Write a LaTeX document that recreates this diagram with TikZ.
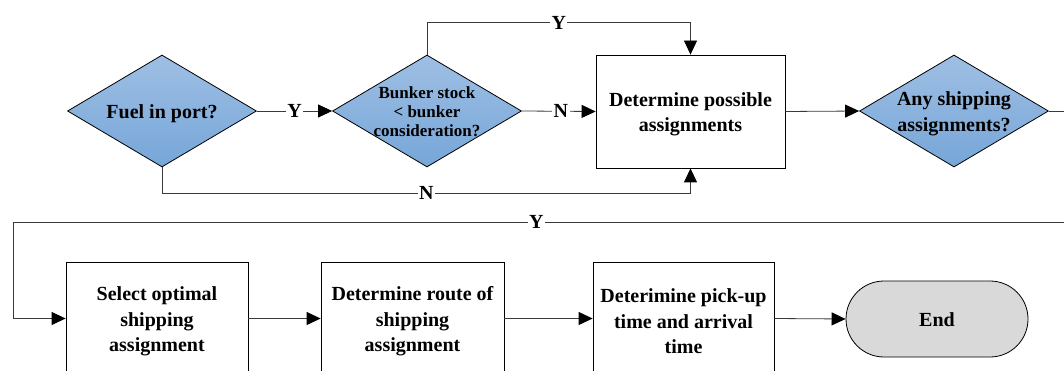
\documentclass[tikz,border=0pt]{standalone}
\usepackage{fontspec}
\setmainfont{Liberation Serif}
\usetikzlibrary{shapes.geometric,shapes.misc,arrows.meta}

\definecolor{dtop}{HTML}{9FBFE4}
\definecolor{dbot}{HTML}{76A6D8}
\definecolor{endfill}{HTML}{D9D9D9}
\definecolor{wire}{HTML}{3A3A3A}

\tikzset{
  every node/.style={font=\bfseries},
  txt/.style={font=\bfseries\fontsize{20}{25.5}\selectfont, align=center, yshift=-3pt},
  small/.style={font=\bfseries\fontsize{17}{19}\selectfont, yshift=2pt},
  decision/.style={diamond, draw=black, line width=0.8pt, inner sep=0pt,
    top color=dtop, bottom color=dbot,
    minimum width=189pt, minimum height=112pt, aspect=1.69},
  process/.style={rectangle, draw=black, line width=0.8pt, fill=white,
    minimum width=#1, minimum height=113pt, inner sep=0pt},
  terminal/.style={rounded rectangle, draw=black, line width=0.8pt,
    fill=endfill, minimum width=182pt, minimum height=76pt, inner sep=0pt},
  flow/.style={draw=wire, line width=0.8pt,
    -{Triangle[length=14pt,width=13pt,color=black]}},
  lbl/.style={fill=white, inner sep=1.5pt, font=\bfseries\fontsize{20}{22}\selectfont},
}

\begin{document}
\begin{tikzpicture}[x=1pt,y=-1pt]
  \clip (0,0) rectangle (1064,371);
  \fill[white] (0,0) rectangle (1064,371);

  % first row
  \node[decision, label={[txt]center:Fuel in port?}] (fuel) at (162,111) {};
  \node[decision, label={[txt, small]center:Bunker stock\\< bunker\\consideration?}] (stock) at (427,111) {};
  \node[process=189pt, label={[txt]center:Determine possible\\assignments}] (poss) at (690.5,111.5) {};
  \node[decision, label={[txt]center:Any shipping\\assignments?}] (any) at (954,111) {};

  % second row
  \node[process=182pt, label={[txt]center:Select optimal\\shipping\\assignment}] (sel) at (157,318.5) {};
  \node[process=183pt, label={[txt]center:Determine route of\\shipping\\assignment}] (route) at (412.5,318.5) {};
  \node[process=181pt, label={[txt]center:Deterimine pick-up\\time and arrival\\time}] (pick) at (683.5,318.5) {};
  \node[terminal, label={[txt, yshift=2pt]center:End}] (end) at (937,319) {};

  % connectors of the first row
  \draw[flow] (fuel.east) -- node[lbl, pos=0.5] {Y} (stock.west);
  \draw[flow] (stock.east) -- node[lbl, pos=0.53] {N} (poss.west);
  \draw[flow] (stock.north) -- ++(0,-32) -| node[lbl, pos=0.25] {Y} (poss.north);
  \draw[flow] (fuel.south) -- ++(0,26) -| node[lbl, pos=0.25] {N} (poss.south);
  \draw[flow] (poss.east) -- (any.west);

  % loop back to the second row
  \draw[flow] (any.east) -- ++(32,0) -- ++(0,111)
    -- node[lbl, pos=0.51] {Y} ++(-1068,0) |- (sel.west);

  % connectors of the second row
  \draw[flow] (sel.east) -- (route.west);
  \draw[flow] (route.east) -- (pick.west);
  \draw[flow] (pick.east) -- (end.west);
\end{tikzpicture}
\end{document}
